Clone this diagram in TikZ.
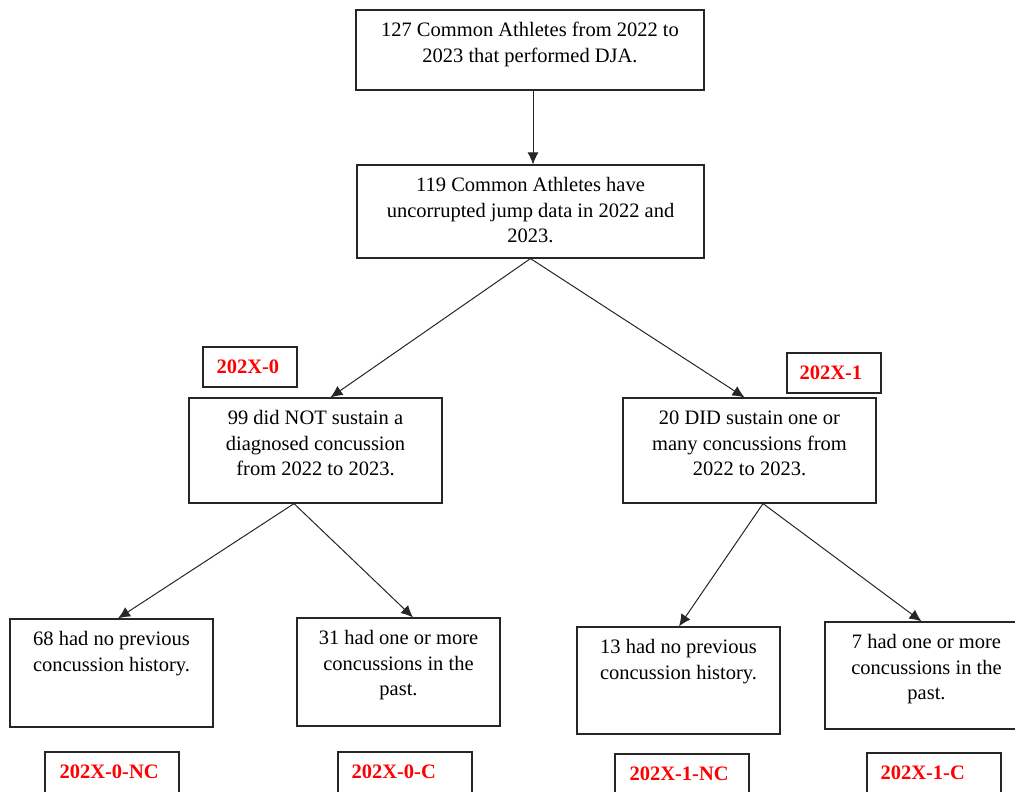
\documentclass[tikz,border=0pt]{standalone}
\usepackage{fontspec}
\setmainfont{Liberation Serif}
\usetikzlibrary{arrows.meta,calc}
\begin{document}
\begin{tikzpicture}[x=1pt,y=-1pt,
  box/.style={draw=black!85, line width=1.2pt, inner sep=0pt, rectangle},
  txt/.style={anchor=north, inner sep=0pt, align=center, text=black, font=\fontsize{20.5}{25.7}\selectfont},
  tag/.style={anchor=north west, inner sep=0pt, text=red, font=\fontsize{20.5}{25.7}\selectfont\bfseries},
  arr/.style={draw=black!85, line width=1pt, -{Latex[length=12pt,width=11pt]}}]
\useasboundingbox (0,0) rectangle (1015,792);
\clip (0,0) rectangle (1015,792);

% main boxes
\node[box, minimum width=348pt, minimum height=80pt] (b1) at (530,50) {};
\node[txt] (t1) at ($(b1.north)+(0,9)$) {\strut 127 Common Athletes from 2022 to\\2023 that performed DJA.};

\node[box, minimum width=347pt, minimum height=93pt] (b2) at (530.5,211.5) {};
\node[txt] (t2) at ($(b2.north)+(0,9)$) {\strut 119 Common Athletes have\\uncorrupted jump data in 2022 and\\2023.};

\node[box, minimum width=253pt, minimum height=105pt] (b99) at (315.5,450.5) {};
\node[txt] (t99) at ($(b99.north)+(0,9)$) {\strut 99 did NOT sustain a\\diagnosed concussion\\from 2022 to 2023.};

\node[box, minimum width=253pt, minimum height=105pt] (b20) at (749.5,450.5) {};
\node[txt] (t20) at ($(b20.north)+(0,9)$) {\strut 20 DID sustain one or\\many concussions from\\2022 to 2023.};

\node[box, minimum width=203pt, minimum height=108pt] (b68) at (111.5,673) {};
\node[txt] (t68) at ($(b68.north)+(0,9)$) {\strut 68 had no previous\\concussion history.};

\node[box, minimum width=203pt, minimum height=108pt] (b31) at (398.5,672) {};
\node[txt] (t31) at ($(b31.north)+(0,9)$) {\strut 31 had one or more\\concussions in the\\past.};

\node[box, minimum width=203pt, minimum height=107pt] (b13) at (678.5,680.5) {};
\node[txt] (t13) at ($(b13.north)+(0,9)$) {\strut 13 had no previous\\concussion history.};

\node[box, minimum width=203pt, minimum height=107pt] (b7) at (926.5,675.5) {};
\node[txt] (t7) at ($(b7.north)+(0,9)$) {\strut 7 had one or more\\concussions in the\\past.};

% group tags
\node[box, minimum width=94pt, minimum height=40pt] (l0) at (250,367) {};
\node[tag] (tl0) at ($(l0.north west)+(14,9)$) {\strut 202X-0};

\node[box, minimum width=94pt, minimum height=40pt] (l1) at (834,373) {};
\node[tag] (tl1) at ($(l1.north west)+(13,9)$) {\strut 202X-1};

\node[box, minimum width=134pt, minimum height=44pt] (lnc0) at (112,774) {};
\node[tag] (tlnc0) at ($(lnc0.north west)+(15,9)$) {\strut 202X-0-NC};

\node[box, minimum width=134pt, minimum height=44pt] (lc0) at (405,774) {};
\node[tag] (tlc0) at ($(lc0.north west)+(14,9)$) {\strut 202X-0-C};

\node[box, minimum width=134pt, minimum height=44pt] (lnc1) at (682,776) {};
\node[tag] (tlnc1) at ($(lnc1.north west)+(15,9)$) {\strut 202X-1-NC};

\node[box, minimum width=134pt, minimum height=44pt] (lc1) at (934,775) {};
\node[tag] (tlc1) at ($(lc1.north west)+(14,9)$) {\strut 202X-1-C};

% connectors
\draw[arr] ($(b1.south)+(3,0)$) -- ($(b2.north)+(2.5,0)$);
\draw[arr] (b2.south) -- ($(b99.north)+(15,0)$);
\draw[arr] (b2.south) -- ($(b20.north)+(-5,0)$);
\draw[arr] ($(b99.south)+(-21.5,0)$) -- ($(b68.north)+(6.5,0)$);
\draw[arr] ($(b99.south)+(-21.5,0)$) -- ($(b31.north)+(14.5,0)$);
\draw[arr] ($(b20.south)+(13.5,0)$) -- ($(b13.north)+(0.5,0)$);
\draw[arr] ($(b20.south)+(13.5,0)$) -- ($(b7.north)+(-5,0)$);
\end{tikzpicture}
\end{document}
